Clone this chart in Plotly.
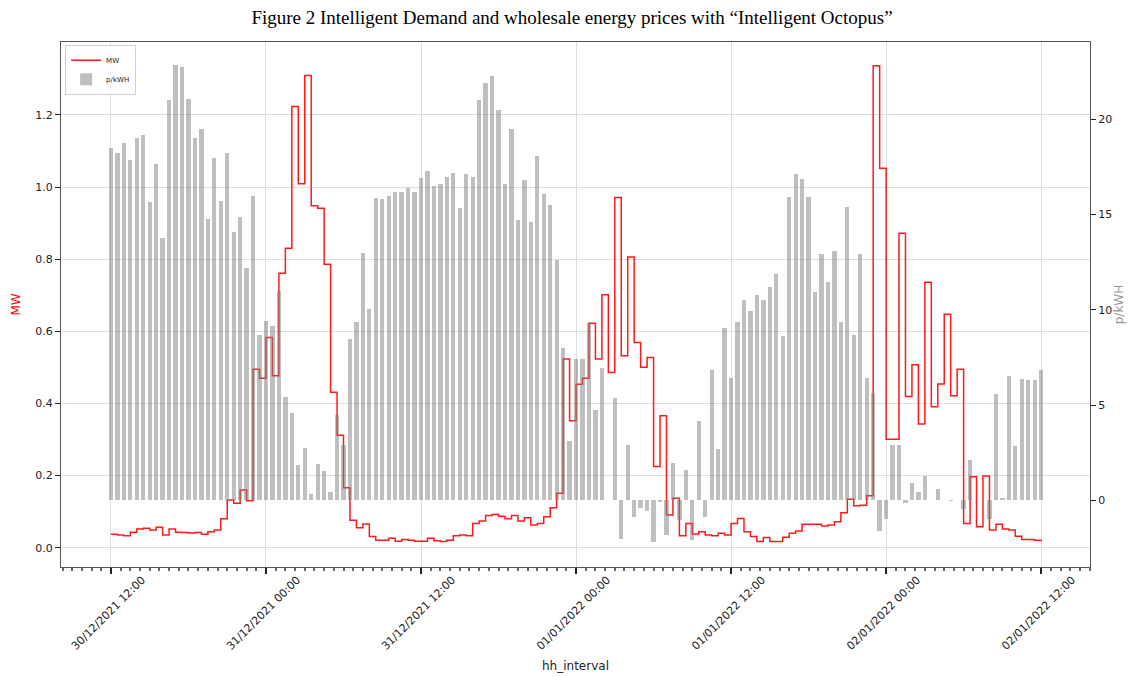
import pandas as pd
import plotly.graph_objects as go

start = "2021-12-30 12:00"
n_points = 145
times = pd.date_range(start, periods=n_points, freq="30min")

price_p_kwh = [
    18.47, 18.24, 18.75, 17.87, 19.0, 19.17, 15.67, 17.63, 13.74, 21.0,
    22.81, 22.72, 21.04, 19.0, 19.49, 14.76, 17.96, 15.70, 18.21, 14.06,
    14.88, 12.17, 15.97, 8.67, 9.40, 9.16, 10.98, 5.44, 4.60, 1.87,
    2.75, 0.33, 1.91, 1.52, 0.44, 4.46, 2.92, 8.46, 9.37, 12.97,
    10.03, 15.88, 15.81, 15.97, 16.19, 16.19, 16.37, 16.16, 16.93, 17.28,
    16.51, 16.61, 16.96, 17.17, 15.32, 17.10, 16.96, 21.0, 21.87, 22.25,
    20.48, 16.58, 19.49, 14.69, 16.79, 14.62, 18.08, 16.05, 15.49, 12.59,
    7.97, 3.13, 7.44, 7.44, 9.3, 4.73, 6.95, 0.0, 5.37, -2.0,
    2.92, -0.88, -0.4, -0.53, -2.19, -0.1, -1.8, 1.97, -1.05, 1.61,
    -2.07, 4.17, -0.86, 6.83, 2.71, 9.02, 6.43, 9.37, 10.5, 9.93,
    10.77, 10.50, 11.20, 11.90, 8.63, 15.93, 17.12, 16.86, 15.93, 10.94,
    12.90, 11.43, 13.08, 9.37, 15.39, 8.70, 12.94, 6.43, 5.65, -1.62,
    -0.95, 2.92, 2.92, -0.15, 0.92, 0.43, 1.30, 0.0, 0.61, 0.0,
    -0.05, 0.0, -0.44, 2.10, 0.0, 0.0, -0.95, 5.60, 0.13, 6.53,
    2.85, 6.36, 6.31, 6.31, 6.86,
]

demand_mw = [
    0.037, 0.035, 0.033, 0.043, 0.052, 0.054, 0.049, 0.057, 0.035, 0.052,
    0.043, 0.042, 0.041, 0.042, 0.037, 0.044, 0.049, 0.080, 0.132, 0.123,
    0.160, 0.130, 0.495, 0.470, 0.583, 0.477, 0.761, 0.830, 1.223, 1.009,
    1.309, 0.948, 0.941, 0.786, 0.431, 0.312, 0.166, 0.076, 0.055, 0.066,
    0.031, 0.021, 0.021, 0.026, 0.018, 0.023, 0.021, 0.018, 0.018, 0.026,
    0.019, 0.017, 0.021, 0.033, 0.035, 0.033, 0.067, 0.074, 0.089, 0.092,
    0.087, 0.080, 0.089, 0.074, 0.083, 0.063, 0.067, 0.086, 0.111, 0.151,
    0.523, 0.352, 0.453, 0.470, 0.622, 0.523, 0.701, 0.486, 0.971, 0.532,
    0.806, 0.569, 0.500, 0.527, 0.225, 0.366, 0.091, 0.137, 0.033, 0.067,
    0.038, 0.044, 0.035, 0.033, 0.040, 0.035, 0.067, 0.081, 0.044, 0.031,
    0.017, 0.028, 0.017, 0.017, 0.029, 0.040, 0.046, 0.065, 0.065, 0.065,
    0.060, 0.063, 0.072, 0.097, 0.134, 0.116, 0.118, 0.144, 1.336, 1.052,
    0.301, 0.301, 0.872, 0.419, 0.507, 0.343, 0.736, 0.391, 0.454, 0.647,
    0.421, 0.495, 0.067, 0.197, 0.058, 0.199, 0.049, 0.065, 0.052, 0.049,
    0.032, 0.023, 0.023, 0.021, 0.018,
]

x_ticks = [
    "2021-12-30 12:00", "2021-12-31 00:00", "2021-12-31 12:00",
    "2022-01-01 00:00", "2022-01-01 12:00", "2022-01-02 00:00",
    "2022-01-02 12:00",
]
mw_ticks = [0.0, 0.2, 0.4, 0.6, 0.8, 1.0, 1.2]
price_ticks = [0, 5, 10, 15, 20]

title_text = "Figure 2 Intelligent Demand and wholesale energy prices with \u201cIntelligent Octopus\u201d"

fig = go.Figure()
fig.add_trace(go.Scatter(
    x=times, y=demand_mw, name="MW", mode="lines",
    line=dict(color="rgba(255,0,0,0.9)", width=1.5, shape="hv"),
    yaxis="y",
))
fig.add_trace(go.Bar(
    x=times, y=price_p_kwh, name="p/kWH",
    width=20 * 60 * 1000,
    marker=dict(color="rgba(128,128,128,0.5)", line=dict(width=0)),
    yaxis="y2",
))

tick_font = dict(family="DejaVu Sans", size=11, color="#222")

# the page body adds an 8px offset, so the figure is 8px smaller on each side
W, H = 1128, 669
fig.update_layout(
    width=W, height=H,
    margin=dict(l=53, r=46, t=34, b=110, autoexpand=False),
    paper_bgcolor="white", plot_bgcolor="white",
    title=dict(text=title_text, x=0.5, xanchor="center", xref="container",
               y=1 - 9 / H, yanchor="middle", yref="container",
               font=dict(family="Liberation Serif", size=19, color="black")),
    showlegend=True,
    legend=dict(x=0.004, y=0.995, xanchor="left", yanchor="top",
                bgcolor="rgba(255,255,255,0.8)", bordercolor="#d0d0d0",
                borderwidth=1, font=dict(family="DejaVu Sans", size=7, color="#222"),
                itemwidth=30, tracegroupgap=0),
    bargap=0,
    xaxis=dict(
        type="date",
        range=["2021-12-30 08:08", "2022-01-02 15:47"],
        tickvals=x_ticks, tickformat="%d/%m/%Y %H:%M", tickangle=-45,
        ticklabelshift=31, ticklabelstandoff=-5,
        tickfont=tick_font, ticks="outside", ticklen=6, tickwidth=1.5, tickcolor="#222",
        showgrid=True, gridcolor="#dddddd", gridwidth=1,
        showline=True, linecolor="#555", linewidth=1.2, mirror=True,
        minor=dict(ticks="outside", ticklen=3, tickcolor="#666",
                   dtick=45 * 60 * 1000, tick0="2021-12-30 12:00", showgrid=False),
        title=dict(text="hh_interval", font=dict(family="DejaVu Sans", size=12, color="#222"),
                   standoff=10),
        automargin=False,
    ),
    yaxis=dict(
        range=[-0.0535, 1.402], tickvals=mw_ticks, tickformat=".1f",
        tickfont=tick_font, ticks="outside", ticklen=5, tickcolor="#222",
        showgrid=True, gridcolor="#dddddd", gridwidth=1, zeroline=False,
        showline=True, linecolor="#555", linewidth=1.2,
        title=dict(text="MW", font=dict(family="DejaVu Sans", size=12, color="red"),
                   standoff=12),
        automargin=False,
    ),
    yaxis2=dict(
        overlaying="y", side="right",
        range=[-3.49, 24.04], tickvals=price_ticks,
        tickfont=tick_font, ticks="outside", ticklen=5, tickcolor="#222",
        showgrid=False, zeroline=False,
        showline=True, linecolor="#555", linewidth=1.2,
        title=dict(text="p/kWH", font=dict(family="DejaVu Sans", size=12, color="#999"),
                   standoff=3),
        automargin=False,
    ),
)

fig.write_html("out.html")
